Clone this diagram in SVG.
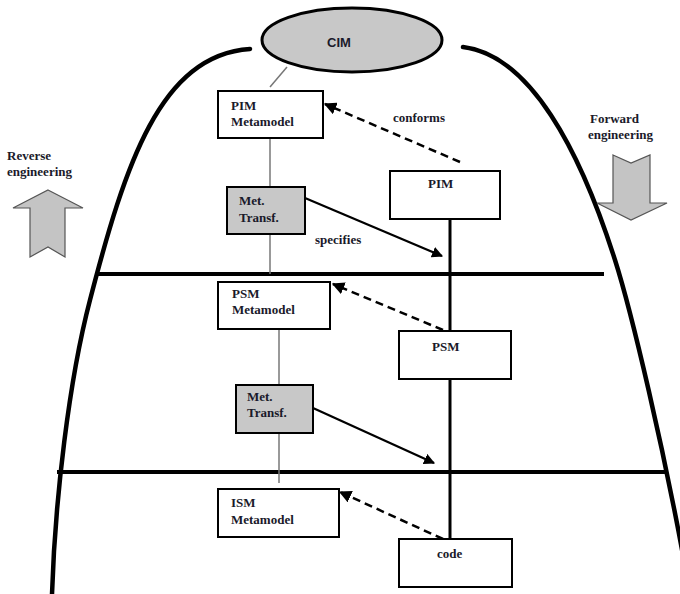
<svg xmlns="http://www.w3.org/2000/svg" width="680" height="594" viewBox="0 0 680 594">
<style>
.t{font-family:"Liberation Serif","Times New Roman",serif;font-weight:bold;font-size:13px;fill:#1a1a2a}
.box{fill:#fff;stroke:#000;stroke-width:2}
.gbox{fill:#c8c8c8;stroke:#000;stroke-width:2}
.arch{fill:none;stroke:#000;stroke-width:4.5;stroke-linecap:round}
.thin{stroke:#777;stroke-width:1.5;fill:none}
.thick{stroke:#000;stroke-width:3;fill:none}
.level{stroke:#000;stroke-width:4;fill:none}
.dash{stroke:#000;stroke-width:2.5;stroke-dasharray:8,5;fill:none}
.solid{stroke:#000;stroke-width:2.2;fill:none}
.big{fill:#c4c4c4;stroke:#555;stroke-width:1.2}
</style>
<defs>
<marker id="ah" viewBox="0 0 10 10" refX="9" refY="5" markerWidth="5" markerHeight="5" orient="auto" markerUnits="strokeWidth">
<path d="M0,0 L10,5 L0,10 z" fill="#000"/>
</marker>
</defs>
<g id="frame">
<path class="arch" d="M 250 49 C 160 55, 125 165, 90 300 C 69 380, 55 500, 52 594"/>
<path class="arch" d="M 463 47 C 530 55, 580 150, 615 260 C 630 307, 665 450, 690 594"/>
<line class="level" x1="98" y1="274" x2="604" y2="274"/>
<line class="level" x1="57" y1="472" x2="665" y2="472"/>
</g>
<g id="connectors">
<line class="thin" x1="287" y1="67" x2="270" y2="87"/>
<line class="thin" x1="270" y1="138" x2="270" y2="187"/>
<line class="thin" x1="270" y1="234" x2="270" y2="274"/>
<line class="thin" x1="279" y1="329" x2="279" y2="385"/>
<line class="thin" x1="279" y1="433" x2="279" y2="483"/>
<line class="thick" x1="450" y1="219" x2="450" y2="331"/>
<line class="thick" x1="450" y1="379" x2="450" y2="539"/>
<line class="dash" x1="460" y1="162" x2="325" y2="104" marker-end="url(#ah)"/>
<line class="dash" x1="443" y1="330" x2="333" y2="284" marker-end="url(#ah)"/>
<line class="dash" x1="443" y1="539" x2="340" y2="492" marker-end="url(#ah)"/>
<line class="solid" x1="305" y1="198" x2="442" y2="256" marker-end="url(#ah)"/>
<line class="solid" x1="313" y1="408" x2="434" y2="463" marker-end="url(#ah)"/>
<text class="t" x="393" y="122">conforms</text>
<text class="t" x="315" y="244">specifies</text>
</g>
<g id="cim">
<ellipse cx="352" cy="40" rx="90" ry="32" fill="#c8c8c8" stroke="#000" stroke-width="3"/>
<text x="327" y="47" font-family="Liberation Sans,Arial,sans-serif" font-weight="bold" font-size="13" fill="#1a1a2a">CIM</text>
</g>
<g id="pim-metamodel">
<rect class="box" x="218" y="91" width="105" height="47"/>
<text class="t" x="231" y="110">PIM</text>
<text class="t" x="231" y="126">Metamodel</text>
</g>
<g id="met-transf-1">
<rect class="gbox" x="227" y="187" width="78" height="47"/>
<text class="t" x="239" y="205">Met.</text>
<text class="t" x="239" y="222">Transf.</text>
</g>
<g id="pim">
<rect class="box" x="390" y="171" width="110" height="48"/>
<text class="t" x="428" y="188">PIM</text>
</g>
<g id="psm-metamodel">
<rect class="box" x="218" y="282" width="112" height="47"/>
<text class="t" x="232" y="298">PSM</text>
<text class="t" x="232" y="314">Metamodel</text>
</g>
<g id="psm">
<rect class="box" x="399" y="331" width="112" height="48"/>
<text class="t" x="432" y="351">PSM</text>
</g>
<g id="met-transf-2">
<rect class="gbox" x="236" y="385" width="77" height="48"/>
<text class="t" x="247" y="401">Met.</text>
<text class="t" x="247" y="417">Transf.</text>
</g>
<g id="ism-metamodel">
<rect class="box" x="218" y="489" width="121" height="48"/>
<text class="t" x="231" y="507">ISM</text>
<text class="t" x="231" y="524">Metamodel</text>
</g>
<g id="code">
<rect class="box" x="399" y="539" width="113" height="48"/>
<text class="t" x="437" y="558">code</text>
</g>
<g id="reverse-engineering">
<text class="t" x="7" y="160">Reverse</text>
<text class="t" x="7" y="176">engineering</text>
<polygon class="big" points="48,190 83,208 65,208 65,257 48,247 30,257 30,208 13,208"/>
</g>
<g id="forward-engineering">
<text class="t" x="590" y="123">Forward</text>
<text class="t" x="588" y="139">engineering</text>
<polygon class="big" points="613,155 631,163 650,155 650,203 667,203 631,220 597,203 613,203"/>
</g>
</svg>
